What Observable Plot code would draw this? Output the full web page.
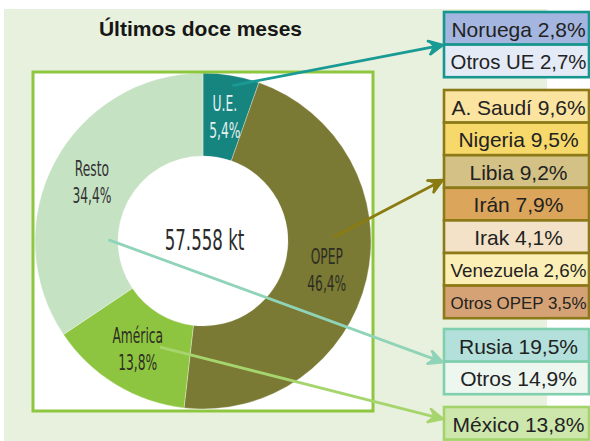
<!DOCTYPE html>
<html><head><meta charset="utf-8">
<script src="https://cdn.jsdelivr.net/npm/d3@7"></script>
<script src="https://cdn.jsdelivr.net/npm/@observablehq/plot@0.6"></script>
<style>html,body{margin:0;padding:0;background:#fff;} svg{display:block}</style>
</head><body><div id="chart"></div>
<script>
// ---------- data ----------
const chartTitle = "Últimos doce meses";
const totalLabel = "57.558 kt";
const regions = ["U.E.", "OPEP", "América", "Resto"];
const regionShares = [5.4, 46.4, 13.8, 34.4];
const euCountries = ["Noruega", "Otros UE"];
const euShares = [2.8, 2.7];
const opecCountries = ["A. Saudí", "Nigeria", "Libia", "Irán", "Irak", "Venezuela", "Otros OPEP"];
const opecShares = [9.6, 9.5, 9.2, 7.9, 4.1, 2.6, 3.5];
const restCountries = ["Rusia", "Otros"];
const restShares = [19.5, 14.9];
const americaCountries = ["México"];
const americaShares = [13.8];

// ---------- styles / layout ----------
const W = 590, H = 441;
const NARROW = "'Liberation Sans Narrow', 'DejaVu Sans Condensed', 'Arial Narrow', sans-serif";
const SANS = "'Liberation Sans', Arial, sans-serif";
const regionFill = {"U.E.": "#16847f", "OPEP": "#7a7a35", "América": "#8dc540", "Resto": "#c5e2c3"};
const regionInk = {"U.E.": "#e6f1ef", "OPEP": "#2e2e22", "América": "#2e2e22", "Resto": "#333333"};
const donut = {cx: 203, cy: 241, r0: 85, r1: 168};
const boxX1 = 444, boxX2 = 589, rowH = 32.6, textX = 518;
const arrowWidth = 2.8;
const head = {length: 15, angle: 52, notch: 9};
const groups = [
  {region: "U.E.", names: euCountries, shares: euShares, top: 12, border: "#17958f",
   fills: ["#a4b6df", "#e5ebf6"], arrow: "#1a9a94", arrowRow: 1.0, arrowT: 0.56, arrowR: 159},
  {region: "OPEP", names: opecCountries, shares: opecShares, top: 90, border: "#8b7a17",
   fills: ["#fbe3a0", "#f6d86b", "#d3c186", "#dca55c", "#f3e2c8", "#fcefb5", "#d5a275"],
   arrow: "#8a7c12", arrowRow: 2.75, arrowT: 0.41, arrowR: 131},
  {region: "Resto", names: restCountries, shares: restShares, top: 329, border: "#80cfae",
   fills: ["#b3e0da", "#eef6f0"], arrow: "#8fd4b9", arrowRow: 1.0, arrowT: 0.28, arrowR: 94},
  {region: "América", names: americaCountries, shares: americaShares, top: 407, border: "#a3d36b",
   fills: ["#cde6ac"], arrow: "#a6d56d", arrowRow: 0.35, arrowT: 0.31, arrowR: 114}
];

const fmt = v => v.toFixed(1).replace(".", ",") + "%";

// ---------- derived tables ----------
const regionRows = regions.map((name, i) => ({name, share: regionShares[i]}));
const arcs = d3.pie().sort(null).value(d => d.share)(regionRows);
const arcGen = d3.arc().innerRadius(donut.r0).outerRadius(donut.r1);
const arcByName = new Map(arcs.map(a => [a.data.name, a]));
const labelRows = arcs.map(a => {
  const [dx, dy] = arcGen.centroid(a);
  return {name: a.data.name, value: fmt(a.data.share), x: donut.cx + dx, y: donut.cy + dy};
});

const boxRows = groups.flatMap(g => g.names.map((n, i) => ({
  label: `${n} ${fmt(g.shares[i])}`,
  y1: g.top + i * rowH, y2: g.top + (i + 1) * rowH,
  fill: g.fills[i], stroke: g.border
})));

const arrowRows = groups.map(g => {
  const a = arcByName.get(g.region);
  const ang = a.startAngle + g.arrowT * (a.endAngle - a.startAngle);
  return {
    x1: donut.cx + g.arrowR * Math.sin(ang), y1: donut.cy - g.arrowR * Math.cos(ang),
    x2: boxX1 - 2, y2: g.top + g.arrowRow * rowH, color: g.arrow
  };
});

function donutSlices(index, scales) {
  const sx = scales && typeof scales.x === "function" ? scales.x : (v => v);
  const sy = scales && typeof scales.y === "function" ? scales.y : (v => v);
  const g = d3.create("svg:g").attr("transform", `translate(${sx(donut.cx)},${sy(donut.cy)})`);
  g.selectAll("path").data(arcs).join("path")
    .attr("d", arcGen)
    .attr("fill", d => regionFill[d.data.name])
    .attr("stroke", "#ffffff").attr("stroke-opacity", 0.45).attr("stroke-width", 0.7);
  return g.node();
}

// filled barbed heads behind Plot's arrow wings
function arrowHeads(index, scales) {
  const sx = scales && typeof scales.x === "function" ? scales.x : (v => v);
  const sy = scales && typeof scales.y === "function" ? scales.y : (v => v);
  const g = d3.create("svg:g");
  const half = head.angle / 2 * Math.PI / 180;
  for (const d of arrowRows) {
    const X1 = +sx(d.x1), Y1 = +sy(d.y1), X2 = +sx(d.x2), Y2 = +sy(d.y2);
    const t = Math.atan2(Y2 - Y1, X2 - X1);
    const px = (a, r) => (X2 - r * Math.cos(t + a)).toFixed(2);
    const py = (a, r) => (Y2 - r * Math.sin(t + a)).toFixed(2);
    const dstr = `M${X2.toFixed(2)},${Y2.toFixed(2)}L${px(half, head.length)},${py(half, head.length)}` +
      `L${px(0, head.notch)},${py(0, head.notch)}L${px(-half, head.length)},${py(-half, head.length)}Z`;
    g.append("path").attr("d", dstr).attr("fill", d.color).attr("stroke", d.color)
      .attr("stroke-width", 1).attr("stroke-linejoin", "round");
  }
  return g.node();
}

const svg = Plot.plot({
  width: W, height: H, margin: 0,
  x: {type: "identity", axis: null},
  y: {type: "identity", axis: null},
  color: {type: "identity"},
  style: {background: "#ffffff", overflow: "hidden"},
  marks: [
    Plot.rect([0], {x1: 4, x2: 547, y1: 9, y2: H, fill: "#e8f1dd"}),
    Plot.rect([0], {x1: 33, x2: 373, y1: 72, y2: 411, fill: "#ffffff"}),
    donutSlices,
    Plot.rect([0], {x1: 33, x2: 373, y1: 72, y2: 411, fill: "none", stroke: "#8dc63f", strokeWidth: 3}),
    Plot.text([chartTitle], {x: 200, y: 29, text: d => d, fontSize: 21, fontWeight: "bold", fontFamily: SANS, fill: "#161616"}),
    Plot.text([totalLabel], {x: donut.cx + 1, y: donut.cy, text: d => d, fontSize: 28, fontFamily: NARROW, fill: "#2a2a2a"}),
    Plot.text(labelRows, {x: "x", y: d => d.y - 13, text: "name", fill: d => regionInk[d.name], fontSize: 21, fontFamily: NARROW}),
    Plot.text(labelRows, {x: "x", y: d => d.y + 14, text: "value", fill: d => regionInk[d.name], fontSize: 21, fontFamily: NARROW}),
    Plot.rect(boxRows, {x1: boxX1, x2: boxX2, y1: "y1", y2: "y2", fill: "fill", stroke: "stroke", strokeWidth: 2.6}),
    Plot.text(boxRows, {x: textX, y: d => (d.y1 + d.y2) / 2 + 1, text: "label", fontSize: 21, fontFamily: SANS, fill: "#222222"}),
    Plot.arrow(arrowRows, {x1: "x1", y1: "y1", x2: "x2", y2: "y2", stroke: "color", strokeWidth: arrowWidth,
      headLength: head.length * 1.5 / arrowWidth, headAngle: head.angle}),
    arrowHeads
  ]
});
document.getElementById("chart").append(svg);

// condensed display face: squeeze donut labels horizontally, fit long box labels
const squeeze = new Map();
regions.forEach(r => squeeze.set(r, 0.65));
regionShares.forEach(v => squeeze.set(fmt(v), 0.65));
squeeze.set(totalLabel, 0.66);
const boxLabels = new Set(boxRows.map(d => d.label));
svg.querySelectorAll("text").forEach(t => {
  const s = t.textContent;
  const len = t.getComputedTextLength();
  if (squeeze.has(s)) {
    t.setAttribute("textLength", len * squeeze.get(s));
    t.setAttribute("lengthAdjust", "spacingAndGlyphs");
  } else if (boxLabels.has(s) && len > 136) {
    t.setAttribute("font-size", (21 * 136 / len).toFixed(2));
  }
});
</script>
</body></html>
